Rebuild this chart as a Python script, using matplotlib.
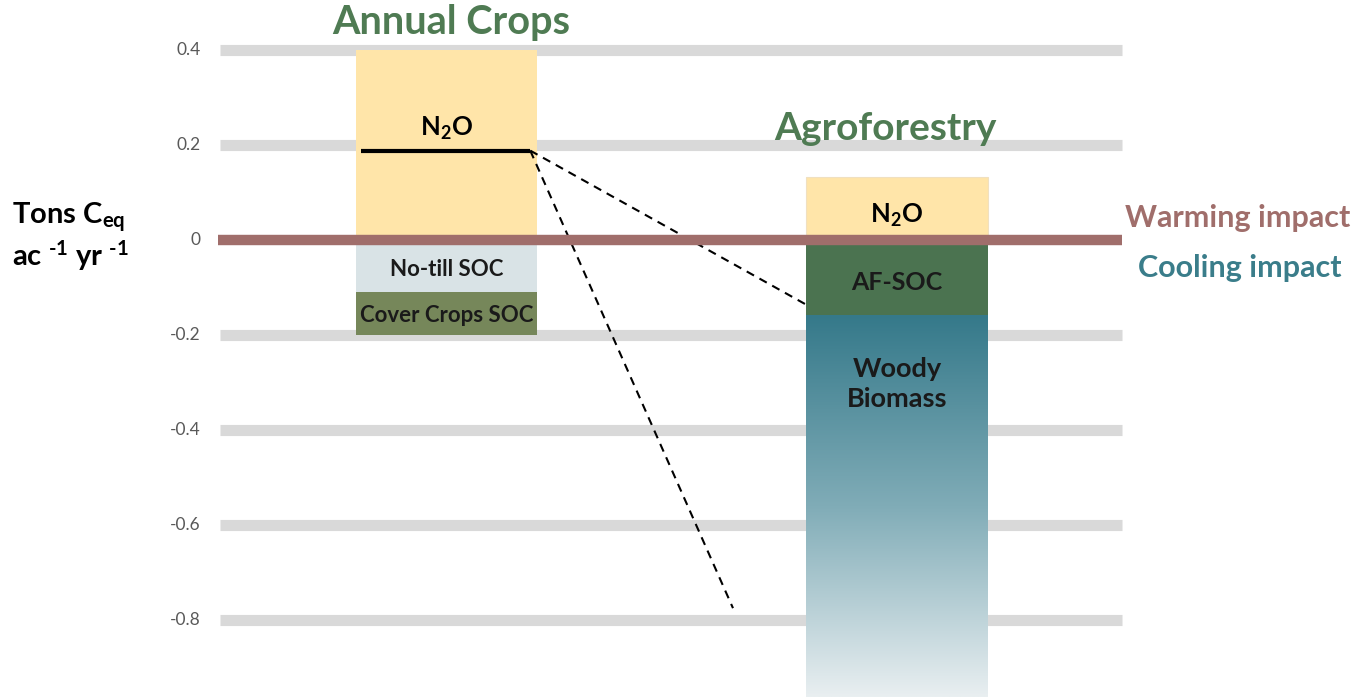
import numpy as np
import matplotlib
matplotlib.use("Agg")
import matplotlib.pyplot as plt
from matplotlib.colors import LinearSegmentedColormap

plt.rcParams['font.family'] = ['Lato', 'DejaVu Sans']
plt.rcParams['mathtext.fontset'] = 'custom'
plt.rcParams['mathtext.rm'] = 'Lato:bold'
plt.rcParams['mathtext.it'] = 'Lato:bold'
plt.rcParams['mathtext.bf'] = 'Lato:bold'

# data
systems = ["Annual Crops", "Agroforestry"]
annual_n2o = 0.40
annual_n2o_mark = 0.188
annual_notill = -0.11
annual_cover = -0.09
agro_n2o = 0.133
agro_afsoc = -0.16
agro_woody = -0.80
y_ticks = [0.4, 0.2, 0, -0.2, -0.4, -0.6, -0.8]
# ends of the dashed connectors (x in bar units, y in tons)
conn_x = [0.80, 0.636]
conn_y = [-0.137, -0.775]

c_n2o = "#FFE5A9"
c_notill = "#D9E3E6"
c_cover = "#76875A"
c_afsoc = "#4B7350"
c_title = "#4F7B53"
c_warm = "#A06E6B"
c_cool = "#3A7D8A"
bw = 0.402

fig = plt.figure(figsize=(13.61, 6.97), dpi=100)
ax = fig.add_axes([0, 0, 1, 1])
ax.set_xlim(-0.991, 2.030)
ax.set_ylim(-0.962, 0.505)
ax.axis("off")

# gray grid bands
for t in y_ticks:
    if t != 0:
        ax.hlines(t, -0.503, 1.5, color="#D9D9D9", lw=8, zorder=1)
    ax.text(-0.545, t, "{:g}".format(t), ha="right", va="center",
            fontsize=12.5, color="#595959")

x0, x1 = 0, 1
# annual crops stack
ax.bar(x0, annual_n2o, width=bw, color=c_n2o, zorder=2)
ax.bar(x0, annual_notill, width=bw, color=c_notill, zorder=2)
ax.bar(x0, annual_cover, bottom=annual_notill, width=bw, color=c_cover, zorder=2)
ax.hlines(annual_n2o_mark, x0 - bw / 2 + 0.012, x0 + bw / 2 - 0.015,
          color="black", lw=3, zorder=3)

# agroforestry stack
ax.bar(x1, agro_n2o, width=bw, color=c_n2o, edgecolor="#F0E0C0", lw=0.8, zorder=2)
ax.bar(x1, agro_afsoc, width=bw, color=c_afsoc, zorder=2)
woody_top = agro_afsoc
woody_bot = -0.962
cmap = LinearSegmentedColormap.from_list("woody", ["#35798A", "#80ACB7", "#E9EFF1"])
grad = np.linspace(0, 1, 256).reshape(-1, 1)
ax.imshow(grad, cmap=cmap, aspect="auto", zorder=2,
          extent=[x1 - bw / 2, x1 + bw / 2, woody_bot, woody_top])

# zero line
ax.hlines(0, -0.508, 1.5, color=c_warm, lw=7.5, zorder=4)

# dashed connectors
for ex, ey in zip(conn_x, conn_y):
    ax.plot([x0 + bw / 2 - 0.015, ex], [annual_n2o_mark, ey], ls=(0, (4, 3)),
            color="black", lw=1.5, zorder=3)

# labels
ax.text(x0 + 0.01, 0.458, systems[0], ha="center", va="center", fontsize=28.5,
        fontweight="bold", color=c_title)
ax.text(x1 - 0.025, 0.235, systems[1], ha="center", va="center", fontsize=28,
        fontweight="bold", color=c_title)
ax.text(x0, 0.235, r"N$_2$O", ha="center", va="center", fontsize=18.5, fontweight="bold")
ax.text(x1, 0.052, r"N$_2$O", ha="center", va="center", fontsize=18.5, fontweight="bold")
ax.text(x0, -0.062, "No-till SOC", ha="center", va="center", fontsize=16,
        fontweight="bold", color="#1a1a1a")
ax.text(x0, -0.158, "Cover Crops SOC", ha="center", va="center", fontsize=16,
        fontweight="bold", color="#1a1a1a")
ax.text(x1, -0.09, "AF-SOC", ha="center", va="center", fontsize=18,
        fontweight="bold", color="#1a1a1a")
ax.text(x1, -0.303, "Woody\nBiomass", ha="center", va="center", fontsize=19.5,
        fontweight="bold", color="#1a1a1a", linespacing=1.3)

ax.text(1.757, 0.046, "Warming impact", ha="center", va="center", fontsize=22,
        fontweight="bold", color=c_warm)
ax.text(1.76, -0.06, "Cooling impact", ha="center", va="center", fontsize=22,
        fontweight="bold", color=c_cool)

ax.text(-0.965, 0.048, r"Tons C$_{eq}$", ha="left", va="center", fontsize=21,
        fontweight="bold")
ax.text(-0.965, -0.032, r"ac $^{\text{-1}}$ yr $^{\text{-1}}$", ha="left", va="center",
        fontsize=21, fontweight="bold")

fig.savefig("out.png", dpi=100)
